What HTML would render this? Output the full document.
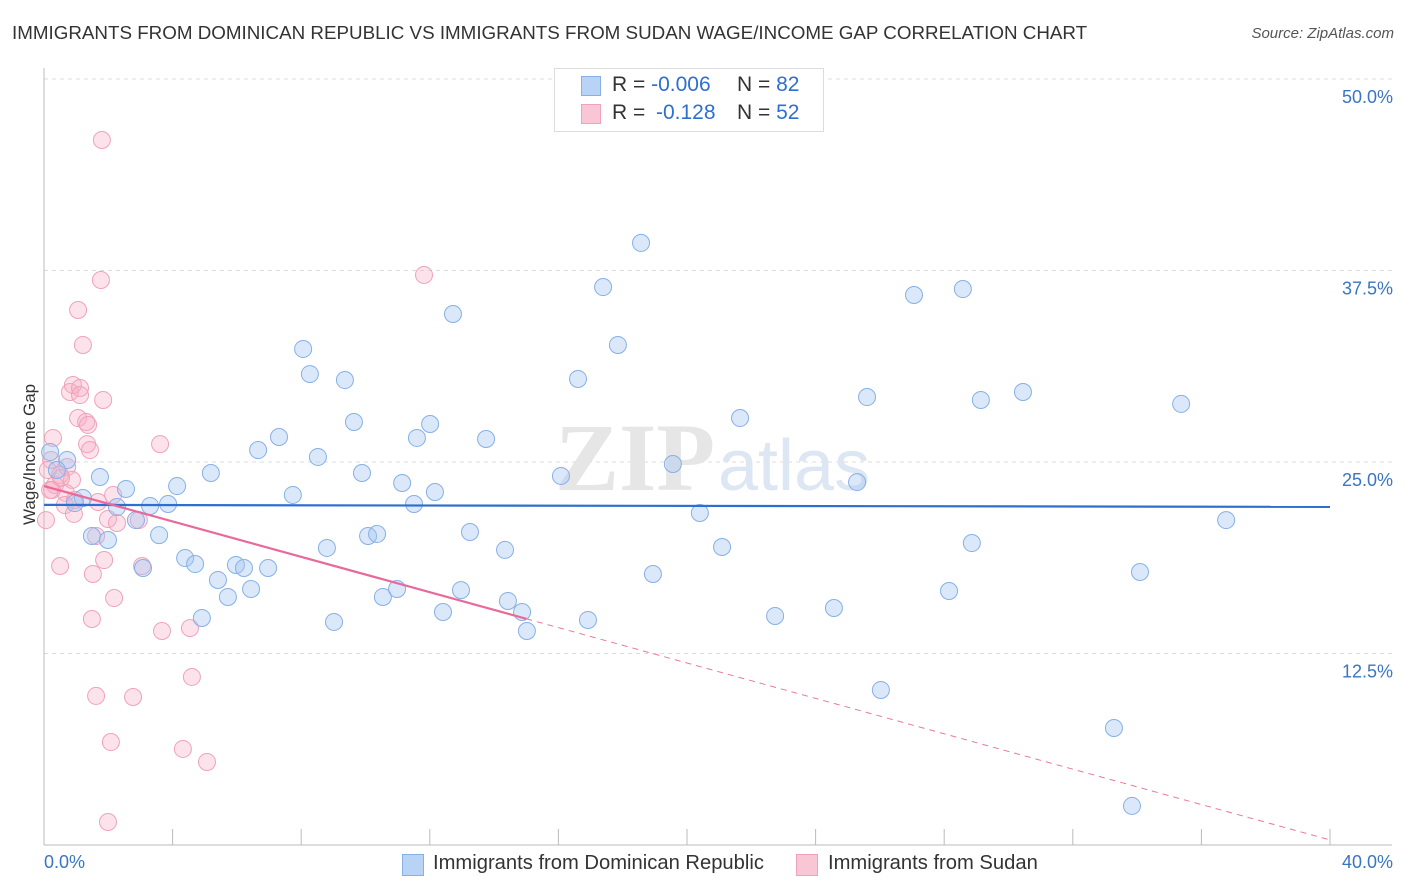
<!DOCTYPE html>
<html><head><meta charset="utf-8">
<style>
body{margin:0;background:#fff;font-family:"Liberation Sans",sans-serif;}
#wrap{position:relative;width:1406px;height:892px;overflow:hidden;}
.t{position:absolute;white-space:nowrap;}
</style></head><body>
<div id="wrap">
<div class="t" style="left:12px;top:22px;font-size:18.8px;color:#333;">IMMIGRANTS FROM DOMINICAN REPUBLIC VS IMMIGRANTS FROM SUDAN WAGE/INCOME GAP CORRELATION CHART</div>
<div class="t" style="right:12px;top:25px;font-size:15px;color:#555;font-style:italic;">Source: ZipAtlas.com</div>
<svg id="svg" width="1406" height="892" style="position:absolute;left:0;top:0"></svg>
</div>
<script>
const xTicksPct=[0,40];
const yTicks=[12.5,25,37.5,50];
const blueX=[],blueY=[],pinkX=[],pinkY=[];
const bluePx=[[50,452],[67,460],[57,470],[100,477],[83,498],[75,503],[126,489],[117,507],[150,506],[168,504],[177,486],[136,520],[92,536],[108,540],[159,535],[143,568],[185,558],[195,564],[211,473],[218,580],[228,597],[236,565],[244,568],[251,589],[268,568],[202,618],[258,450],[279,437],[293,495],[303,349],[310,374],[318,457],[327,548],[334,622],[345,380],[354,422],[362,473],[368,536],[377,534],[383,597],[397,589],[402,483],[414,504],[417,438],[430,424],[435,492],[453,314],[443,612],[461,590],[470,532],[486,439],[505,550],[508,601],[522,612],[527,631],[561,476],[578,379],[588,620],[603,287],[618,345],[641,243],[653,574],[673,464],[700,513],[722,547],[740,418],[775,616],[834,608],[857,482],[867,397],[881,690],[914,295],[949,591],[963,289],[972,543],[981,400],[1023,392],[1114,728],[1132,806],[1140,572],[1181,404],[1226,520]];
const pinkPx=[[102,140],[101,280],[78,310],[83,345],[70,392],[73,385],[80,388],[80,395],[103,400],[78,418],[86,422],[88,425],[87,444],[90,450],[53,438],[51,460],[48,470],[60,475],[67,467],[72,480],[55,485],[52,490],[66,493],[75,500],[98,502],[113,495],[65,505],[74,514],[108,519],[117,523],[139,520],[96,536],[60,566],[142,566],[104,560],[93,574],[114,598],[92,619],[162,631],[190,628],[160,444],[424,275],[96,696],[133,697],[192,677],[111,742],[183,749],[207,762],[108,822],[46,520],[50,490],[61,478]];
for(const p of bluePx){blueX.push(+((p[0]-44)/1286*40).toFixed(2));blueY.push(+((845-p[1])/191.5*12.5).toFixed(2));}
for(const p of pinkPx){pinkX.push(+((p[0]-44)/1286*40).toFixed(2));pinkY.push(+((845-p[1])/191.5*12.5).toFixed(2));}
const blueTrend=[22.2,22.07];
const pinkTrend=[23.43,0.33];
const pinkSolidEnd=15.0;

const X0=44,X1=1330,Y0=845,Y50=79;
const sx=v=>X0+(X1-X0)*v/40;
const sy=v=>Y0-(Y0-Y50)*v/50;
const svg=document.getElementById('svg');
const NS='http://www.w3.org/2000/svg';
function mk(tag,attrs){const e=document.createElementNS(NS,tag);for(const k in attrs)e.setAttribute(k,attrs[k]);svg.appendChild(e);return e;}
for(const t of yTicks){
 const g=mk('line',{x1:X0,x2:1392,y1:sy(t),y2:sy(t),stroke:'#dcdcdc','stroke-dasharray':'4,4','stroke-width':1});
 
 
 const tx=mk('text',{x:1393,y:sy(t)+24,'text-anchor':'end','font-size':18,fill:'#3a75c4','font-family':'Liberation Sans'});
 tx.textContent=t.toFixed(1)+'%';
 
 
}
let a=mk('line',{x1:X0,x2:X0,y1:68,y2:Y0,stroke:'#bbb'});
a=mk('line',{x1:X0,x2:1392,y1:Y0,y2:Y0,stroke:'#bbb'});
for(let i=0;i<=10;i++){const tk=mk('line',{x1:sx(i*4),x2:sx(i*4),y1:829,y2:Y0,stroke:'#bbb'});}
let w=mk('text',{x:555,y:490,'font-size':96,fill:'#e6e6e6','font-family':'Liberation Serif','font-weight':'bold'});w.textContent='ZIP';
w=mk('text',{x:718,y:490,'font-size':72,fill:'#dde6f3','font-family':'Liberation Sans'});w.textContent='atlas';
for(let i=0;i<pinkX.length;i++){const c=mk('circle',{cx:sx(pinkX[i]),cy:sy(pinkY[i]),r:8.5,fill:'rgba(246,176,198,0.35)',stroke:'#f0a2ba','stroke-width':1});}
for(let i=0;i<blueX.length;i++){const c=mk('circle',{cx:sx(blueX[i]),cy:sy(blueY[i]),r:8.5,fill:'rgba(164,198,240,0.4)',stroke:'#86b0e6','stroke-width':1});}
const pt=x=>pinkTrend[0]+(pinkTrend[1]-pinkTrend[0])*x/40;
let l=mk('line',{x1:sx(0),x2:sx(40),y1:sy(blueTrend[0]),y2:sy(blueTrend[1]),stroke:'#2d6fd0','stroke-width':2.2});
l=mk('line',{x1:sx(pinkSolidEnd),x2:sx(40),y1:sy(pt(pinkSolidEnd)),y2:sy(pt(40)),stroke:'#e8799f','stroke-width':1,'stroke-dasharray':'6,5'});
l=mk('line',{x1:sx(0),x2:sx(pinkSolidEnd),y1:sy(pt(0)),y2:sy(pt(pinkSolidEnd)),stroke:'#e8699a','stroke-width':2.2});
</script>
<div class="t" style="left:-40px;top:445px;width:140px;text-align:center;transform:rotate(-90deg);font-size:17px;color:#333;">Wage/Income Gap</div>
<div class="t" style="left:44px;top:852px;font-size:18px;color:#3a75c4;">0.0%</div>
<div class="t" style="right:13px;top:852px;font-size:18px;color:#3a75c4;">40.0%</div>
<div style="position:absolute;left:554px;top:68px;width:268px;height:62px;border:1px solid #ddd;background:#fff;font-size:21px;color:#333;">
 <div style="position:absolute;left:26px;top:7px;width:18px;height:18px;background:#b8d3f5;border:1px solid #86b0e6;"></div>
 <div class="t" style="left:57px;top:4px;">R = <span style="color:#2d6fd0">-0.006</span></div>
 <div class="t" style="left:182px;top:4px;">N = <span style="color:#2d6fd0">82</span></div>
 <div style="position:absolute;left:26px;top:35px;width:18px;height:18px;background:#f9c6d5;border:1px solid #f0a2ba;"></div>
 <div class="t" style="left:57px;top:32px;">R = </div>
 <div class="t" style="left:101px;top:32px;color:#2d6fd0">-0.128</div>
 <div class="t" style="left:182px;top:32px;">N = <span style="color:#2d6fd0">52</span></div>
</div>
<div style="position:absolute;left:0;top:852px;width:1406px;font-size:20.2px;color:#333;">
 <div style="position:absolute;left:402px;top:2px;width:20px;height:20px;background:#b8d3f5;border:1px solid #86b0e6;"></div>
 <div class="t" style="left:433px;top:0px;">Immigrants from Dominican Republic</div>
 <div style="position:absolute;left:796px;top:2px;width:20px;height:20px;background:#f9c6d5;border:1px solid #f0a2ba;"></div>
 <div class="t" style="left:828px;top:0px;">Immigrants from Sudan</div>
</div>
</body></html>
